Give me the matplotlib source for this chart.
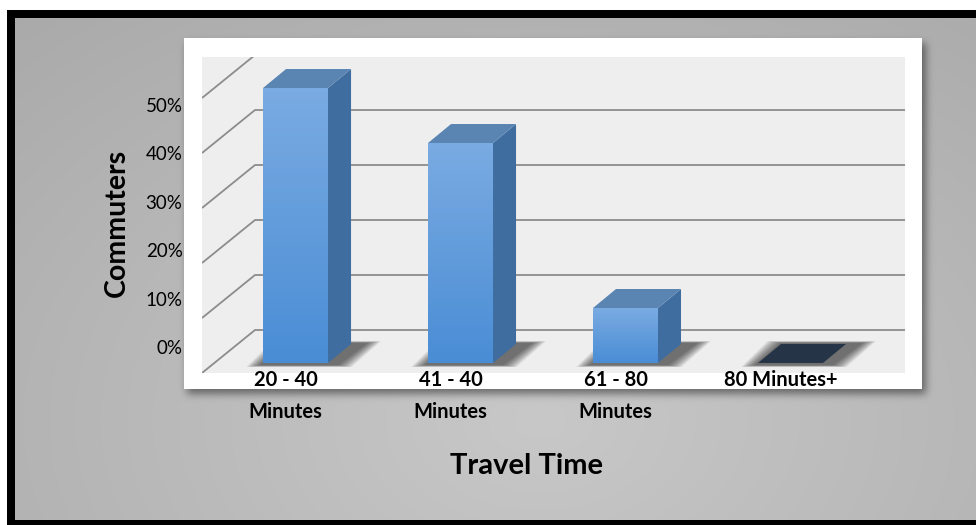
import numpy as np
import matplotlib.pyplot as plt
from matplotlib.patches import Polygon, Rectangle

# commute share per travel-time band
categories = ['20 - 40\nMinutes', '41 - 40\nMinutes', '61 - 80\nMinutes', '80 Minutes+']
share = [50, 40, 10, 0]
grid_levels = [0, 10, 20, 30, 40, 50]
grid_labels = ['0%', '10%', '20%', '30%', '40%', '50%']

W, H = 976, 525
plt.rcParams['font.family'] = ['Lato', 'DejaVu Sans']


def px_rect(x0, y0, x1, y1):
    return [x0 / W, 1 - y1 / H, (x1 - x0) / W, (y1 - y0) / H]


def blur(a, sigma):
    k = np.arange(-3 * sigma, 3 * sigma + 1)
    k = np.exp(-k ** 2 / (2.0 * sigma ** 2))
    k /= k.sum()
    a = np.apply_along_axis(lambda r: np.convolve(r, k, mode='same'), 1, a)
    a = np.apply_along_axis(lambda c: np.convolve(c, k, mode='same'), 0, a)
    return a


# slide background: grey radial gradient, black frame, shadow under the white card
yy, xx = np.mgrid[0:H, 0:W]
r = np.sqrt(((xx - 540) / 620.0) ** 2 + ((yy - 420) / 430.0) ** 2)
val = np.clip((200 - 24 * r) / 255.0, 0, 1)
bg = np.dstack([val, val, val])

box = (184, 38, 922, 389)
mask = np.zeros((H, W))
mask[box[1] + 5:box[3] + 5, box[0] + 3:box[2] + 4] = 1.0
shade = blur(mask, 4)
bg *= (1 - 0.45 * shade)[..., None]

bg[:10, :] = 1
bg[:, :7] = 1
bg[10:18, 7:] = 0
bg[10:, 7:15] = 0
bg[520:, 7:] = 0

fig = plt.figure(figsize=(W / 100, H / 100), dpi=100)
bgax = fig.add_axes([0, 0, 1, 1])
bgax.imshow(bg, extent=(0, W, H, 0), interpolation='bilinear')
bgax.add_patch(Rectangle((box[0], box[1]), box[2] - box[0], box[3] - box[1],
                         facecolor='white', edgecolor='none'))
bgax.set_xlim(0, W)
bgax.set_ylim(H, 0)
bgax.axis('off')

# plot area
ax = fig.add_axes(px_rect(202, 57, 905, 373))
ax.set_facecolor('#eeeeee')
x_lo, x_hi = -0.567, 3.694
y_lo, y_hi = -1.818, 55.64
ax.set_xlim(x_lo, x_hi)
ax.set_ylim(y_lo, y_hi)
for s in ax.spines.values():
    s.set_visible(False)

# perspective offsets (floor depth and bar depth)
wall_dx, wall_dy = 53 / 165, 43 / 5.5
bar_dx, bar_dy = 23 / 165, 19 / 5.5
width = 0.394

for v in grid_levels:
    front = (x_lo, v + y_lo)
    back = (x_lo + wall_dx, v + y_lo + wall_dy)
    ax.plot([front[0], back[0], x_hi], [front[1], back[1], back[1]],
            color='#8c8c8c', lw=1.3, zorder=1, solid_capstyle='butt')

xs = np.arange(len(share))

# soft shadows on the floor, built up from stacked translucent layers
for x in xs:
    x0, x1 = x - width / 2, x + width / 2
    for k in range(12):
        m = 0.0075 * (11 - k)
        sh = Polygon([(x0 - 0.02 - m, -0.4 - 4 * m), (x1 + 0.06 + m, -0.4 - 4 * m),
                      (x1 + bar_dx + 0.1 + m, bar_dy + 0.2 + 4 * m),
                      (x0 + bar_dx - m, bar_dy + 0.2 + 4 * m)],
                     closed=True, facecolor='black', edgecolor='none', alpha=0.06, zorder=2)
        ax.add_patch(sh)

bars = ax.bar(xs, share, width=width, bottom=0, color='#5b98dc', zorder=3)
grad = np.linspace(0, 1, 64)[:, None]
front_cmap = plt.matplotlib.colors.LinearSegmentedColormap.from_list(
    'front', ['#4a8dd5', '#7aabe2'])
for b, v in zip(bars, share):
    if v <= 0:
        b.set_visible(False)
        continue
    im = ax.imshow(grad, cmap=front_cmap, aspect='auto', origin='lower', zorder=3,
                   extent=(b.get_x(), b.get_x() + b.get_width(), 0, v))
    im.set_clip_path(b)
    x0, x1 = b.get_x(), b.get_x() + b.get_width()
    ax.add_patch(Polygon([(x1, 0), (x1 + bar_dx, bar_dy), (x1 + bar_dx, v + bar_dy), (x1, v)],
                         closed=True, facecolor='#3f6d9f', edgecolor='none', zorder=4))
    ax.add_patch(Polygon([(x0, v), (x1, v), (x1 + bar_dx, v + bar_dy), (x0 + bar_dx, v + bar_dy)],
                         closed=True, facecolor='#5a84b2', edgecolor='none', zorder=4))

for x, v in zip(xs, share):
    if v > 0:
        continue
    x0, x1 = x - width / 2, x + width / 2
    ax.add_patch(Polygon([(x0, v), (x1, v), (x1 + bar_dx, v + bar_dy), (x0 + bar_dx, v + bar_dy)],
                         closed=True, facecolor='#253447', edgecolor='none', zorder=4))

ax.set_xlim(x_lo, x_hi)
ax.set_ylim(y_lo, y_hi)

# axis labels
label_pos = [2.82 + 0.882 * v for v in grid_levels]
ax.set_yticks(label_pos, grid_labels, fontsize=13.5)
ax.set_xticks(xs - 0.06, categories, fontsize=14.5, fontweight='bold', linespacing=1.75)
ax.tick_params(axis='y', length=0, pad=14)
ax.tick_params(axis='x', length=0, pad=-2)

fig.text(117 / W, 1 - 223 / H, 'Commuters', rotation=90, ha='center', va='center',
         fontsize=20.5, fontweight='bold')
fig.text(526 / W, 1 - 466 / H, 'Travel Time', ha='center', va='center',
         fontsize=21, fontweight='bold')

plt.savefig('out.png', dpi=100)
